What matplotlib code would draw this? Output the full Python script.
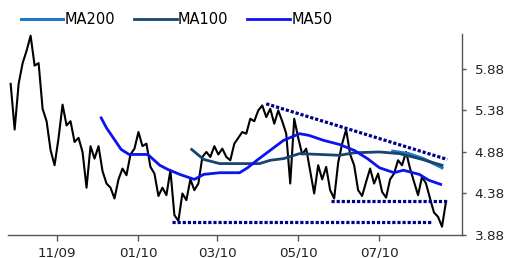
import matplotlib
matplotlib.use('Agg')
import matplotlib.pyplot as plt
import matplotlib.dates as mdates
import pandas as pd

plt.rcParams['font.family'] = 'DejaVu Sans'

# ---------- data
# closing price, one point every 3 calendar days from 27 Sep 2009
price_start = '2009-09-27'
price = [5.70, 5.15, 5.70, 5.95, 6.10, 6.28, 5.92, 5.95, 5.40, 5.25,
         4.90, 4.72, 5.05, 5.45, 5.20, 5.25, 5.00, 5.05, 4.88, 4.45,
         4.95, 4.80, 4.95, 4.65, 4.50, 4.45, 4.32, 4.55, 4.68, 4.60,
         4.85, 4.92, 5.12, 4.95, 4.98, 4.70, 4.62, 4.35, 4.45, 4.36,
         4.66, 4.12, 4.05, 4.38, 4.30, 4.55, 4.42, 4.50, 4.82, 4.88,
         4.82, 4.95, 4.85, 4.92, 4.82, 4.78, 4.98, 5.05, 5.12, 5.10,
         5.28, 5.25, 5.38, 5.44, 5.30, 5.40, 5.22, 5.38, 5.25, 5.10,
         4.50, 5.28, 5.05, 4.85, 4.92, 4.65, 4.38, 4.72, 4.55, 4.70,
         4.42, 4.32, 4.75, 4.98, 5.15, 4.85, 4.72, 4.42, 4.35, 4.52,
         4.68, 4.50, 4.62, 4.40, 4.33, 4.55, 4.62, 4.78, 4.72, 4.88,
         4.68, 4.52, 4.36, 4.58, 4.50, 4.32, 4.15, 4.10, 3.98, 4.28]

ma50_dates = ['2009-12-04', '2009-12-08', '2009-12-19', '2009-12-25', '2010-01-08',
              '2010-01-17', '2010-01-23', '2010-02-01', '2010-02-12', '2010-02-19',
              '2010-03-03', '2010-03-18', '2010-03-24', '2010-03-31', '2010-04-10',
              '2010-04-20', '2010-05-02', '2010-05-09', '2010-05-20', '2010-06-01',
              '2010-06-12', '2010-06-22', '2010-07-01', '2010-07-12', '2010-07-19',
              '2010-07-31', '2010-08-07', '2010-08-16']
ma50 = [5.29, 5.17, 4.91, 4.85, 4.85, 4.72, 4.67, 4.61, 4.55, 4.61,
        4.63, 4.63, 4.69, 4.78, 4.90, 5.02, 5.10, 5.08, 5.02, 4.97,
        4.90, 4.80, 4.69, 4.63, 4.66, 4.61, 4.54, 4.49]

ma100_dates = ['2010-02-10', '2010-02-19', '2010-03-03', '2010-04-02', '2010-04-10',
               '2010-04-20', '2010-05-02', '2010-05-17', '2010-06-01', '2010-06-12',
               '2010-07-01', '2010-07-16', '2010-07-31', '2010-08-17']
ma100 = [4.91, 4.79, 4.74, 4.74, 4.78, 4.80, 4.86, 4.85, 4.84, 4.87,
         4.88, 4.86, 4.80, 4.72]

ma200_dates = ['2010-07-11', '2010-07-23', '2010-08-03', '2010-08-17']
ma200 = [4.89, 4.86, 4.80, 4.69]

# trend lines (start, end)
resist_dates = ['2010-04-07', '2010-08-21']
resist = [5.46, 4.79]
support1_dates = ['2010-01-26', '2010-08-09']
support1 = [4.04, 4.04]
support2_dates = ['2010-05-26', '2010-08-21']
support2 = [4.29, 4.29]

yticks = [3.88, 4.38, 4.88, 5.38, 5.88]

# ---------- figure
fig = plt.figure(figsize=(5.22, 2.58), dpi=100)
ax = fig.add_axes([0.0153, 0.0891, 0.8697, 0.779])

px = pd.date_range(price_start, periods=len(price), freq='3D')
ax.plot(px, price, color='black', lw=1.5, zorder=2)

dot = dict(color='#00008B', lw=2.3, dashes=(1.0, 0.6), dash_capstyle='butt', zorder=3)
ax.plot(pd.to_datetime(support1_dates), support1, **dot)
ax.plot(pd.to_datetime(support2_dates), support2, **dot)
ax.plot(pd.to_datetime(resist_dates), resist, **dot)

l200, = ax.plot(pd.to_datetime(ma200_dates), ma200, color='#1F78C8', lw=2.2, zorder=4, label='MA200')
l100, = ax.plot(pd.to_datetime(ma100_dates), ma100, color='#17456E', lw=2.0, zorder=4, label='MA100')
l50, = ax.plot(pd.to_datetime(ma50_dates), ma50, color='#0A14F0', lw=2.0, zorder=4, label='MA50')

ax.set_xlim(pd.Timestamp('2009-09-25'), pd.Timestamp('2010-09-01'))
ax.set_ylim(3.88, 6.30)

ax.xaxis.set_major_locator(mdates.MonthLocator(bymonth=[1, 3, 5, 7, 11]))
ax.xaxis.set_major_formatter(mdates.DateFormatter('%m/%y'))
ax.yaxis.tick_right()
ax.set_yticks(yticks)
ax.set_yticklabels(['%.2f' % v for v in yticks])

for s in ['left', 'top']:
    ax.spines[s].set_visible(False)
for s in ['bottom', 'right']:
    ax.spines[s].set_color('#555555')
    ax.spines[s].set_linewidth(1.0)
ax.tick_params(axis='x', length=4, width=1, color='#555555', pad=4, labelsize=9.7, labelcolor='#222222')
ax.tick_params(axis='y', length=3, width=1, color='#555555', pad=6, labelsize=9.7, labelcolor='#222222')

fig.legend(handles=[l200, l100, l50], loc='upper left', bbox_to_anchor=(0.04, 0.955),
           ncol=3, frameon=False, fontsize=10.5, handlelength=2.9, handletextpad=0.1,
           columnspacing=1.3, borderpad=0, borderaxespad=0)

fig.savefig('out.png', dpi=100)
